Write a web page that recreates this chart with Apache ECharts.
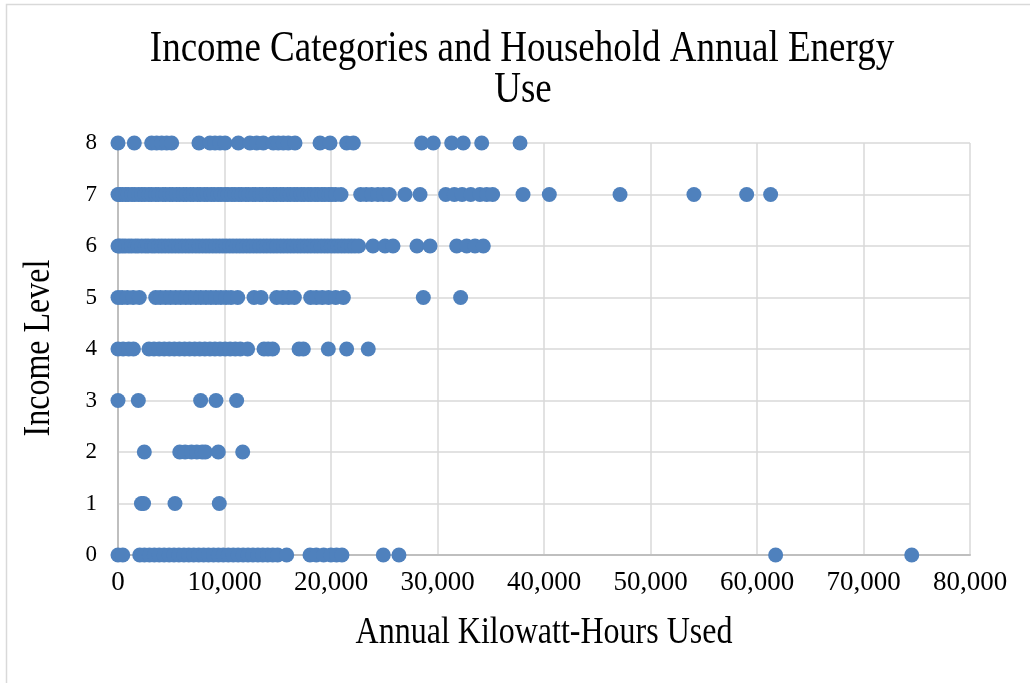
<!DOCTYPE html>
<html>
<head>
<meta charset="utf-8">
<title>Income Categories and Household Annual Energy Use</title>
<script src="https://cdn.jsdelivr.net/npm/echarts@6/dist/echarts.min.js"></script>
<style>
  html, body { margin: 0; padding: 0; background: #ffffff; }
  #chart { width: 1030px; height: 683px; }
</style>
</head>
<body>
<div id="chart"></div>
<script>
// Annual kilowatt-hours used by households, grouped by income level (0-8)
const kwhLevel8 = [0, 1530, 3160, 3630, 4100, 4570, 5040, 7600, 8640, 9110, 9580, 10050, 11300, 12390,
  13020, 13640, 14580, 15050, 15520, 15990, 16620, 18970, 19910, 21470, 22100, 28510, 29610, 31330,
  32420, 34150, 37750];

const kwhLevel7 = [0, 140, 410, 720, 960, 1310, 1580, 1930, 2240, 2530, 2890, 3170, 3540, 3820, 4210,
  4480, 4850, 5130, 5490, 5780, 6140, 6430, 6790, 7080, 7450, 7720, 8090, 8380, 8740, 9030, 9390, 9680,
  10050, 10330, 10690, 10980, 11340, 11620, 11990, 12270, 12650, 12920, 13300, 13570, 13940, 14230,
  14590, 14880, 15240, 15530, 15890, 16180, 16540, 16830, 17190, 17480, 17840, 18130, 18490, 18780,
  19140, 19430, 19790, 20080, 20440, 20940, 22790, 23310, 23820, 24410, 24930, 25470, 26950, 28360,
  30770, 31580, 32310, 33120, 33980, 34620, 35180, 38030, 40500, 47140, 54080, 59030, 61280];

const kwhLevel6 = [0, 160, 430, 690, 1010, 1290, 1620, 1890, 2230, 2560, 2840, 3190, 3470, 3810, 4120,
  4430, 4760, 5070, 5390, 5710, 6020, 6350, 6660, 6980, 7310, 7620, 7940, 8260, 8570, 8900, 9210, 9530,
  9850, 10160, 10490, 10800, 11120, 11440, 11750, 12080, 12390, 12710, 13030, 13340, 13670, 13980,
  14300, 14620, 14930, 15260, 15570, 15890, 16210, 16520, 16850, 17160, 17480, 17800, 18110, 18440,
  18750, 19070, 19390, 19700, 20030, 20340, 20660, 20980, 21290, 21620, 21930, 22250, 22600, 23940,
  25070, 25820, 28070, 29300, 31800, 32740, 33520, 34300];

const kwhLevel5 = [0, 390, 880, 1420, 2000, 3540, 3980, 4470, 4930, 5410, 5880, 6360, 6820, 7310, 7770,
  8250, 8720, 9190, 9660, 10140, 10610, 11240, 12770, 13430, 14900, 15480, 16020, 16560, 18090, 18620,
  19180, 19770, 20440, 21160, 28670, 32170];

const kwhLevel4 = [0, 480, 1010, 1450, 2910, 3380, 3870, 4340, 4820, 5290, 5770, 6250, 6720, 7200,
  7670, 8150, 8630, 9100, 9580, 10060, 10530, 11010, 11480, 12170, 13710, 14100, 14520, 17000, 17400,
  19750, 21470, 23500];

const kwhLevel3 = [0, 1910, 7760, 9200, 11140];
const kwhLevel2 = [2470, 5800, 6300, 6900, 7400, 7900, 8200, 9420, 11710];
const kwhLevel1 = [2200, 2400, 5350, 9510];

const kwhLevel0 = [0, 450, 2040, 2480, 2950, 3410, 3870, 4330, 4800, 5260, 5720, 6190, 6650, 7110,
  7580, 8040, 8500, 8970, 9430, 9890, 10360, 10820, 11280, 11750, 12210, 12670, 13140, 13600, 14060,
  14530, 14990, 15840, 18030, 18620, 19310, 19990, 20520, 21030, 24910, 26380, 61750, 74530];

const incomeLevels = [0, 1, 2, 3, 4, 5, 6, 7, 8];
const kwhByLevel = [kwhLevel0, kwhLevel1, kwhLevel2, kwhLevel3, kwhLevel4,
  kwhLevel5, kwhLevel6, kwhLevel7, kwhLevel8];

const titleLines = ['Income Categories and Household Annual Energy', 'Use'];
const xAxisTitle = 'Annual Kilowatt-Hours Used';
const yAxisTitle = 'Income Level';

// Flatten into [kWh, level] pairs for the scatter series
const points = [];
incomeLevels.forEach(function (level, i) {
  kwhByLevel[i].forEach(function (kwh) { points.push([kwh, level]); });
});

const serif = '"Liberation Serif", "Times New Roman", serif';
const stretch = 1.18; // headings are set slightly tall

const chart = echarts.init(document.getElementById('chart'), null, { renderer: 'canvas' });

chart.setOption({
  backgroundColor: '#ffffff',
  animation: false,
  grid: { left: 118, right: 60, top: 143, bottom: 128, containLabel: false },
  xAxis: {
    type: 'value',
    min: 0,
    max: 80000,
    interval: 10000,
    axisLine: { show: true, lineStyle: { color: '#bfbfbf', width: 2 } },
    axisTick: { show: false },
    splitLine: { show: true, lineStyle: { color: '#d9d9d9', width: 1.5 } },
    axisLabel: {
      margin: 14,
      color: '#000000',
      fontFamily: serif,
      fontSize: 27,
      formatter: function (v) { return v.toLocaleString('en-US'); }
    }
  },
  yAxis: {
    type: 'value',
    min: 0,
    max: 8,
    interval: 1,
    axisLine: { show: true, lineStyle: { color: '#bfbfbf', width: 2 } },
    axisTick: { show: false },
    splitLine: { show: true, lineStyle: { color: '#d9d9d9', width: 1.5 } },
    axisLabel: {
      margin: 21,
      color: '#000000',
      fontFamily: serif,
      fontSize: 23
    }
  },
  series: [{
    type: 'scatter',
    data: points,
    symbol: 'circle',
    symbolSize: 15,
    itemStyle: { color: '#4f81bd', opacity: 1 },
    z: 3
  }],
  graphic: [
    {
      type: 'rect',
      silent: true,
      shape: { x: 6.5, y: 4.5, width: 1100, height: 800 },
      style: { fill: 'none', stroke: '#d9d9d9', lineWidth: 1.5 },
      z: -1
    },
    {
      type: 'text', x: 522, y: 50, scaleY: stretch,
      style: { text: titleLines[0], fill: '#000000', font: '37px ' + serif,
        textAlign: 'center', textVerticalAlign: 'middle' }
    },
    {
      type: 'text', x: 523, y: 91, scaleY: stretch,
      style: { text: titleLines[1], fill: '#000000', font: '37px ' + serif,
        textAlign: 'center', textVerticalAlign: 'middle' }
    },
    {
      type: 'text', x: 544, y: 633, scaleY: stretch,
      style: { text: xAxisTitle, fill: '#000000', font: '32px ' + serif,
        textAlign: 'center', textVerticalAlign: 'middle' }
    },
    {
      type: 'text', x: 39, y: 348, rotation: Math.PI / 2, scaleY: stretch,
      style: { text: yAxisTitle, fill: '#000000', font: '32px ' + serif,
        textAlign: 'center', textVerticalAlign: 'middle' }
    }
  ]
});
</script>
</body>
</html>
